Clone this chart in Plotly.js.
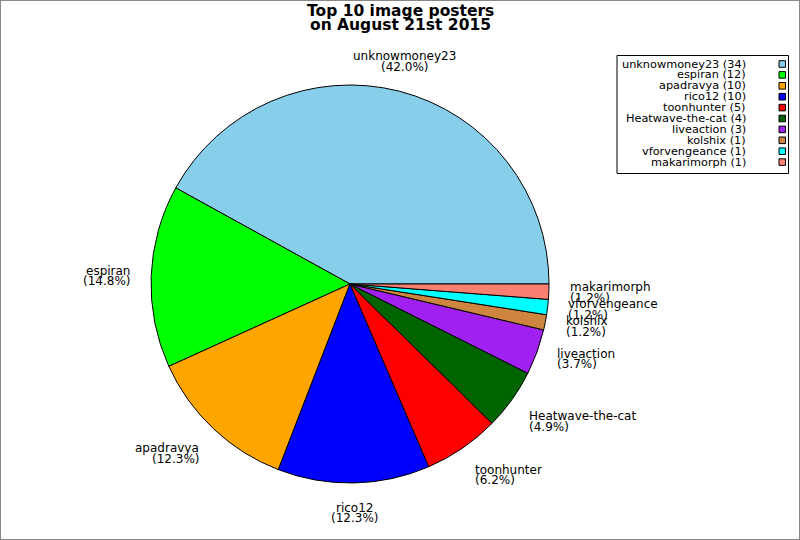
<!DOCTYPE html>
<html>
<head>
<meta charset="utf-8">
<script src="https://cdn.plot.ly/plotly-3.0.1.min.js"></script>
<style>
  body { margin: 0; padding: 0; background: #fff; }
  #wrap { position: relative; width: 800px; height: 540px; }
  #chart { width: 800px; height: 540px; }
  #frame { position: absolute; left: 0; top: 0; width: 800px; height: 540px; box-sizing: border-box; border: 1px solid #888; pointer-events: none; }
</style>
</head>
<body>
<div id="wrap"><div id="chart"></div><div id="frame"></div></div>
<script>
const titleLines = ["Top 10 image posters", "on August 21st 2015"];
const labels = ["unknowmoney23", "espiran", "apadravya", "rico12", "toonhunter",
                "Heatwave-the-cat", "liveaction", "kolshix", "vforvengeance", "makarimorph"];
const values = [34, 12, 10, 10, 5, 4, 3, 1, 1, 1];
const colors = ["#87CEEB", "#00FF00", "#FFA500", "#0000FF", "#FF0000",
                "#006400", "#A020F0", "#CD853F", "#00FFFF", "#FA8072"];

// pixel geometry of the pie
const CX = 350, CY = 284, R = 199;
const W = 800, H = 540;
const mL = CX - R, mR = W - (CX + R), mT = CY - R, mB = H - (CY + R);
const px2x = px => (px - mL) / (2 * R);
const px2y = py => ((CY + R) - py) / (2 * R);

const FONT = "DejaVu Sans, Verdana, sans-serif";
const annotations = [];
const shapes = [];

// title
titleLines.forEach((t, i) => {
  annotations.push({
    text: "<b>" + t + "</b>", xref: "paper", yref: "paper",
    x: px2x(400), y: px2y(11 + i * 13.5), xanchor: "center", yanchor: "middle",
    showarrow: false, borderpad: 0, font: {family: FONT, size: 15.5, color: "#000"}
  });
});

// slice labels
const total = values.reduce((a, b) => a + b, 0);
let cum = 0;
labels.forEach((lab, i) => {
  const frac = values[i] / total;
  const mid = (cum + frac / 2) * 2 * Math.PI;
  cum += frac;
  const c = Math.cos(mid), s = Math.sin(mid);
  const lx = CX + 1.1 * R * c;
  const ly = CY - 1.1 * R * s;
  const ha = Math.abs(c) < 0.35 ? "center" : (c > 0 ? "left" : "right");
  let y1, y2;
  if (Math.abs(s) < 0.5) { y1 = ly - 5; y2 = ly + 5.5; }
  else if (s > 0) { y1 = ly - 16; y2 = ly - 5.5; }
  else { y1 = ly + 5; y2 = ly + 15.5; }
  const pct = "(" + (frac * 100).toFixed(1) + "%)";
  [[lab, y1], [pct, y2]].forEach(([t, yy]) => {
    annotations.push({
      text: t, xref: "paper", yref: "paper", x: px2x(lx), y: px2y(yy),
      xanchor: ha, yanchor: "middle", showarrow: false, borderpad: 0,
      font: {family: FONT, size: 12, color: "#000"}
    });
  });
});

// legend box
shapes.push({type: "rect", xref: "paper", yref: "paper",
  x0: px2x(617), x1: px2x(788.5), y0: px2y(55.5), y1: px2y(173.5),
  line: {color: "#000", width: 1}, fillcolor: "rgba(0,0,0,0)"});
labels.forEach((lab, i) => {
  const yc = 64 + i * 10.9;
  annotations.push({
    text: lab + " (" + values[i] + ")", xref: "paper", yref: "paper",
    x: px2x(747), y: px2y(yc), xanchor: "right", yanchor: "middle",
    showarrow: false, borderpad: 0, font: {family: FONT, size: 11.3, color: "#000"}
  });
  shapes.push({type: "rect", xref: "paper", yref: "paper",
    x0: px2x(779), x1: px2x(785.5), y0: px2y(yc - 3.3), y1: px2y(yc + 3.3),
    line: {color: "#000", width: 1}, fillcolor: colors[i]});
});

// first slice should start at 3 o'clock and run counterclockwise
const rotation = 90 - 360 * values[0] / total;

const data = [{
  type: "pie", labels: labels, values: values, sort: false,
  direction: "counterclockwise", rotation: rotation,
  marker: {colors: colors, line: {color: "#000", width: 1}},
  textinfo: "none", hoverinfo: "label+value+percent", showlegend: false
}];

const layout = {
  width: W, height: H,
  margin: {l: mL, r: mR, t: mT, b: mB, pad: 0},
  paper_bgcolor: "#fff", plot_bgcolor: "#fff",
  showlegend: false,
  annotations: annotations, shapes: shapes,
  font: {family: FONT, size: 12, color: "#000"}
};

Plotly.newPlot("chart", data, layout, {displayModeBar: false, staticPlot: true});
</script>
</body>
</html>
